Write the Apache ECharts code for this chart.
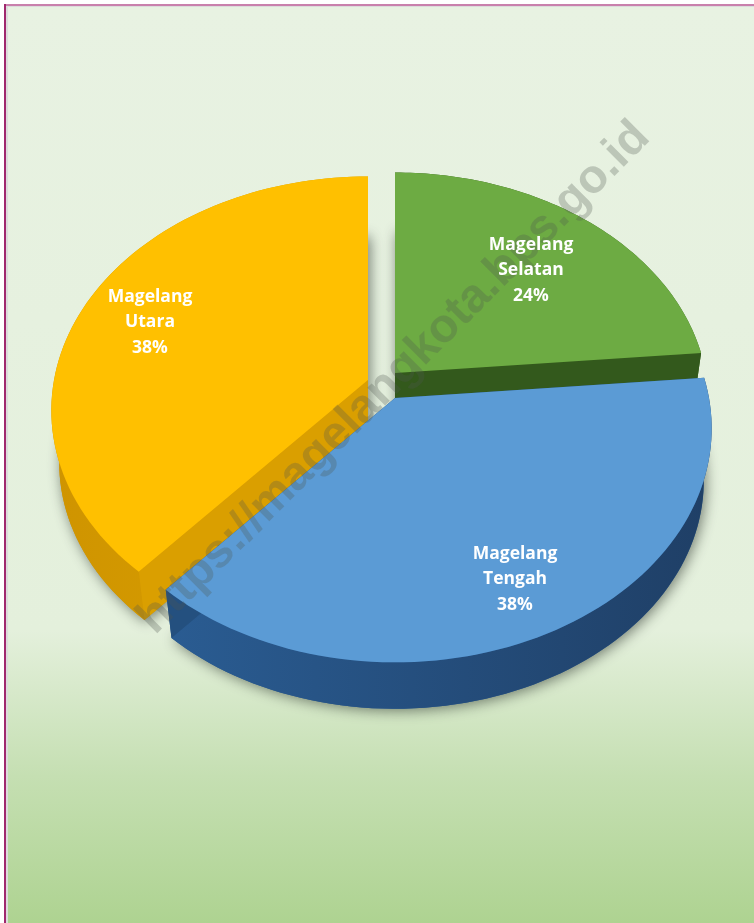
<!DOCTYPE html>
<html>
<head>
<meta charset="utf-8">
<title>Magelang</title>
<script src="https://cdn.jsdelivr.net/npm/echarts@6/dist/echarts.min.js"></script>
<style>
  html, body { margin: 0; padding: 0; background: #fff; }
  #chart { width: 754px; height: 923px; }
</style>
</head>
<body>
<div id="chart"></div>
<script>
const categories = ['Magelang Selatan', 'Magelang Tengah', 'Magelang Utara'];
const values = [24, 38, 38];

// one look per slice, same order as categories
// turn = small nudge of the slice edges in degrees, the original's 3D view is not quite regular
const looks = [
    { apex: [395, 373], scale: [0.99, 0.985], turn: [0, -1.5], top: '#6DAB43', wall: ['#33591c', '#3f6a24'], face: '#33591c', order: 1, label: [531, 245] },
    { apex: [395, 398], scale: [1, 1], turn: [-1.5, -2], top: '#5B9BD5', wall: ['#2a5c92', '#1f3f66'], face: '#24507f', order: 3, label: [515, 554] },
    { apex: [368, 380], scale: [1, 1], turn: [-2, 0], top: '#FFC000', wall: ['#cf9400', '#dba200'], face: '#da9f00', order: 2, label: [150, 297] }
];

const total = values.reduce((a, b) => a + b, 0);
const RX = 314, RY = 230, PERSP = 0.13;
const DEPTH = 53, BASE_SCALE = 0.975;

// clockwise from the top of the disc, tilted towards the viewer
function topPoint(look, a) {
    const u = Math.sin(a), v = -Math.cos(a);
    const s = 1 / (1 - PERSP * v);
    return [look.apex[0] + RX * look.scale[0] * u * s, look.apex[1] + RY * look.scale[1] * v * s];
}
function basePoint(apex, p) {
    return [apex[0] + (p[0] - apex[0]) * BASE_SCALE, apex[1] + (p[1] - apex[1]) * BASE_SCALE + DEPTH];
}
function arc(look, a0, a1) {
    const pts = [];
    const n = 80;
    for (let i = 0; i <= n; i++) {
        pts.push(topPoint(look, a0 + (a1 - a0) * i / n));
    }
    return pts;
}
function sliceAngles(index) {
    let sum = 0;
    for (let i = 0; i < index; i++) sum += values[i];
    const turn = looks[index].turn;
    return [
        sum / total * Math.PI * 2 + turn[0] * Math.PI / 180,
        (sum + values[index]) / total * Math.PI * 2 + turn[1] * Math.PI / 180
    ];
}
function wallGradient(look) {
    return new echarts.graphic.LinearGradient(0, 0, 1, 0, [
        { offset: 0, color: look.wall[0] },
        { offset: 1, color: look.wall[1] }
    ]);
}

function renderSlice(params, api) {
    const look = looks[params.dataIndex];
    const apex = look.apex;
    const angles = sliceAngles(params.dataIndex);
    const rim = arc(look, angles[0], angles[1]);
    const rimBase = rim.map(p => basePoint(apex, p));
    const apexBase = basePoint(apex, apex);
    const first = rim[0], last = rim[rim.length - 1];
    const z = look.order * 10;
    const poly = (points, style, z2) => ({ type: 'polygon', shape: { points: points }, style: style, z2: z2, silent: true });

    return {
        type: 'group',
        children: [
            // shadow on the page, always under every slice
            poly([apexBase].concat(rimBase), {
                fill: look.wall[0],
                shadowBlur: 14,
                shadowColor: 'rgba(50,60,50,0.65)',
                shadowOffsetX: 2,
                shadowOffsetY: 2
            }, 1),
            poly(rim.concat(rimBase.slice().reverse()), { fill: wallGradient(look) }, z),
            poly([apex, first, basePoint(apex, first), apexBase], { fill: look.face }, z),
            poly([apex, last, basePoint(apex, last), apexBase], { fill: look.face }, z),
            poly([apex].concat(rim), { fill: look.top }, z + 1)
        ]
    };
}

function renderLabel(params, api) {
    const look = looks[params.dataIndex];
    const words = categories[params.dataIndex].split(' ');
    const lines = words.concat([api.value(0) + '%']);
    return {
        type: 'group',
        children: lines.map((line, i) => ({
            type: 'text',
            silent: true,
            style: {
                text: line,
                x: look.label[0],
                y: look.label[1] + i * 25.5,
                fill: '#fff',
                font: 'bold 17.5px "Open Sans"',
                textAlign: 'center',
                textVerticalAlign: 'middle'
            }
        }))
    };
}

const chart = echarts.init(document.getElementById('chart'));
chart.setOption({
    animation: false,
    graphic: [
        { type: 'rect', z: -1, silent: true, shape: { x: 4, y: 4, width: 750, height: 919 }, style: { fill: '#a0286e' } },
        { type: 'rect', z: -1, silent: true, shape: { x: 6, y: 4, width: 748, height: 2 }, style: { fill: '#c980ac' } },
        { type: 'rect', z: -1, silent: true, shape: { x: 6, y: 6, width: 748, height: 917 }, style: { fill: '#dcdcdc' } },
        {
            type: 'rect', z: -1, silent: true,
            shape: { x: 8, y: 7, width: 746, height: 916 },
            style: {
                fill: new echarts.graphic.LinearGradient(0, 0, 0, 1, [
                    { offset: 0, color: '#e8f2e2' },
                    { offset: 0.68, color: '#e4f0dc' },
                    { offset: 0.84, color: '#c5dfb2' },
                    { offset: 1, color: '#aed391' }
                ])
            }
        },
        {
            type: 'text', z: 5, silent: true,
            x: 394, y: 378, rotation: Math.PI / 4,
            style: {
                text: 'https://magelangkota.bps.go.id',
                fill: 'rgba(80,85,80,0.28)',
                font: 'bold 47.5px "Liberation Sans"',
                textAlign: 'center',
                textVerticalAlign: 'middle'
            }
        }
    ],
    series: [
        {
            type: 'custom',
            coordinateSystem: 'none',
            z: 2,
            silent: true,
            renderItem: renderSlice,
            data: values
        },
        {
            type: 'custom',
            coordinateSystem: 'none',
            z: 10,
            silent: true,
            renderItem: renderLabel,
            data: values
        }
    ]
});
</script>
</body>
</html>
